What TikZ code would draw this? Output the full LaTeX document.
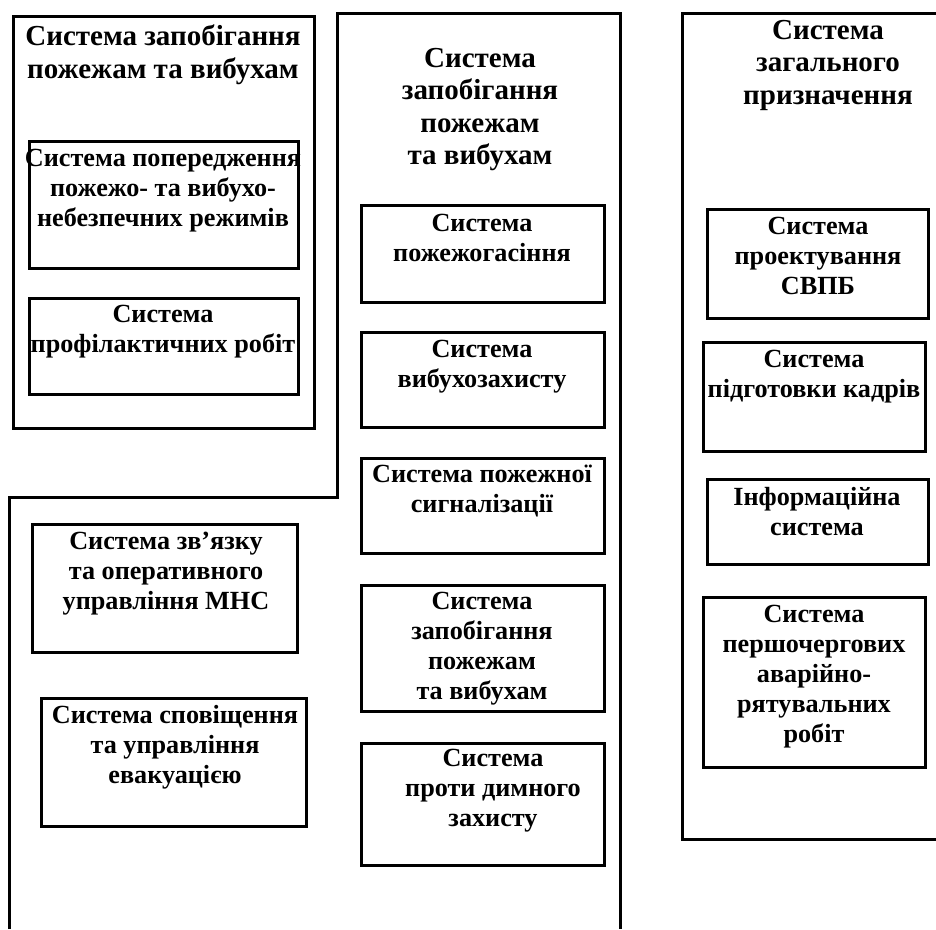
\documentclass[tikz,border=0pt]{standalone}
\usepackage{fontspec}
\setmainfont{Liberation Serif}
\usetikzlibrary{positioning}

\begin{document}
\begin{tikzpicture}[x=1pt, y=-1pt,
    frame/.style={line width=3pt},
    lbl/.style={font=\fontsize{26.2}{30}\selectfont\bfseries, align=center, inner sep=0pt, anchor=north},
    head/.style={lbl, font=\fontsize{29}{32.5}\selectfont\bfseries}]
  \useasboundingbox (0,0) rectangle (936,929);
  % outer frames
  \draw[frame] (13,16) rectangle (314,428);
  \draw[frame] (9,929) |- (337,497) |- (620,13) -- (620,929);
  \draw[frame] (936,13) -| (682,839) -- (936,839);
  % left top group
  \node[head] (leftT) at (163,25) {Система запобігання\\пожежам та вибухам};
  \draw[frame] (29,141) rectangle (298,268);
  \node[lbl] (warn) at (163,149) {Система попередження\\пожежо- та вибухо-\\небезпечних режимів};
  \draw[frame] (29,298) rectangle (298,394);
  \node[lbl] (prof) at (163,305) {Система\\профілактичних робіт};
  % middle group
  \node[head] (midT) at (480,48) {Система\\запобігання\\пожежам\\та вибухам};
  \draw[frame] (361,205) rectangle (604,302);
  \node[lbl] (gas) at (482,214) {Система\\пожежогасіння};
  \draw[frame] (361,332) rectangle (604,427);
  \node[lbl] (blast) at (482,340) {Система\\вибухозахисту};
  \draw[frame] (361,458) rectangle (604,553);
  \node[lbl] (alarm) at (482,465) {Система пожежної\\сигналізації};
  \draw[frame] (361,585) rectangle (604,711);
  \node[lbl] (prev) at (482,592) {Система\\запобігання\\пожежам\\та вибухам};
  \draw[frame] (361,743) rectangle (604,865);
  \node[lbl] (smoke) at (493,749) {Система\\проти димного\\захисту};
  % left bottom group
  \draw[frame] (32,524) rectangle (297,652);
  \node[lbl] (comm) at (166,532) {Система зв’язку\\та оперативного\\управління МНС};
  \draw[frame] (41,698) rectangle (306,826);
  \node[lbl] (evac) at (175,705) {Система сповіщення\\та управління\\евакуацією};
  % right group
  \node[head] (rightT) at (828,20) {Система\\загального\\призначення};
  \draw[frame] (707,209) rectangle (928,318);
  \node[lbl] (design) at (818,217) {Система\\проектування\\СВПБ};
  \draw[frame] (703,342) rectangle (925,451);
  \node[lbl] (staff) at (814,350) {Система\\підготовки кадрів};
  \draw[frame] (707,479) rectangle (928,564);
  \node[lbl] (info) at (817,487) {Інформаційна\\система};
  \draw[frame] (703,597) rectangle (925,767);
  \node[lbl] (rescue) at (814,605) {Система\\першочергових\\аварійно-\\рятувальних\\робіт};
\end{tikzpicture}
\end{document}
